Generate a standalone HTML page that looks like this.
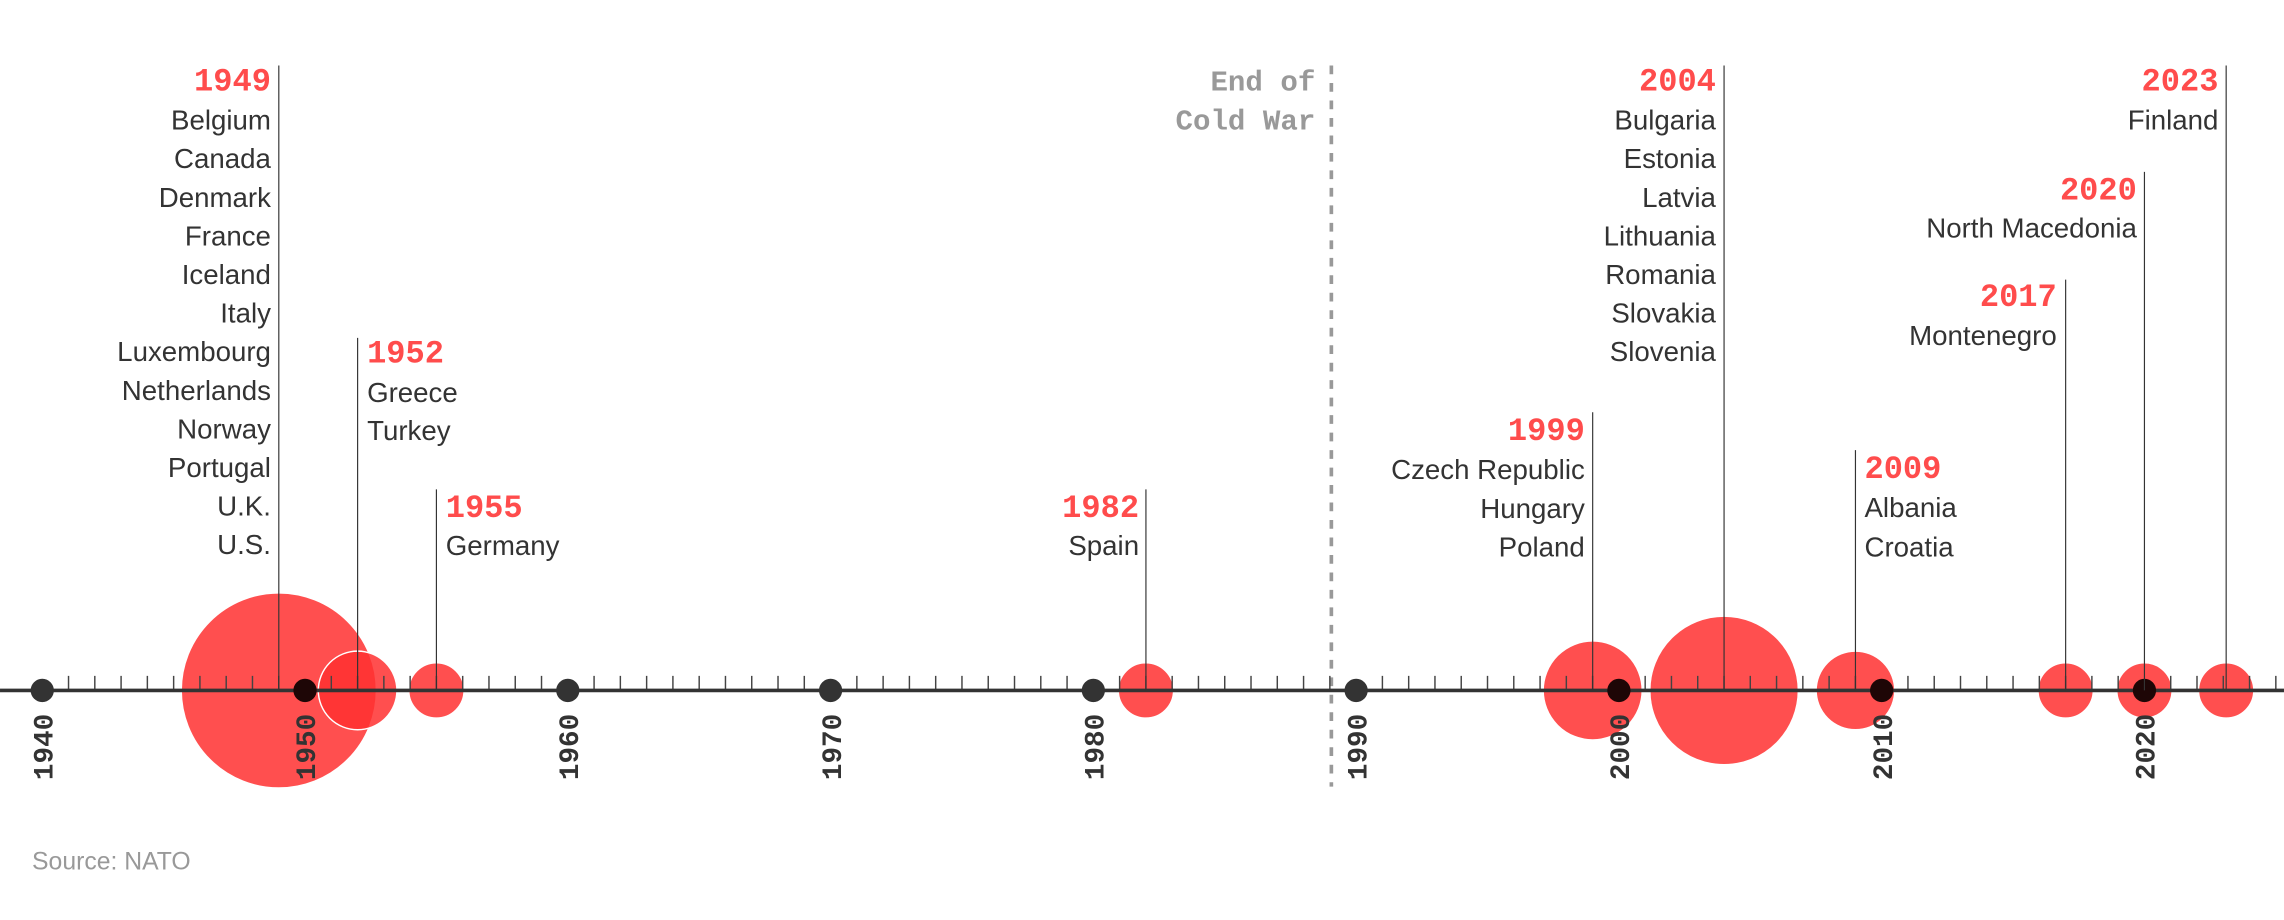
<!DOCTYPE html>
<html><head><meta charset="utf-8"><style>html,body{margin:0;padding:0;background:#fff}svg{display:block}
.m{font-family:"Liberation Mono","DejaVu Sans Mono",monospace;font-weight:bold}
.s{font-family:"Liberation Sans",sans-serif}</style></head><body>
<svg width="2284" height="920" viewBox="0 0 1568 631.6" xmlns="http://www.w3.org/2000/svg">
<line x1="914" y1="45" x2="914" y2="540" stroke="#999" stroke-width="2.5" stroke-dasharray="6,6"/>
<g fill="#ff3030" fill-opacity="0.85" stroke="#fff" stroke-width="1">
<circle cx="191.4" cy="474" r="67"/><circle cx="245.5" cy="474" r="27"/><circle cx="299.6" cy="474" r="19"/><circle cx="786.7" cy="474" r="19"/><circle cx="1093.4" cy="474" r="34"/><circle cx="1183.6" cy="474" r="51"/><circle cx="1273.8" cy="474" r="27"/><circle cx="1418.1" cy="474" r="19"/><circle cx="1472.2" cy="474" r="19"/><circle cx="1528.3" cy="474" r="19"/>
</g>
<g id="ticks" stroke="#444" stroke-width="1"></g>
<line x1="0" y1="474" x2="1568" y2="474" stroke="#333" stroke-width="2.5"/>
<g fill="#333">
<circle cx="29" cy="474" r="8"/><circle cx="389.8" cy="474" r="8"/><circle cx="570.2" cy="474" r="8"/><circle cx="750.6" cy="474" r="8"/><circle cx="931" cy="474" r="8"/>
</g>
<g fill="#1e0606">
<circle cx="209.4" cy="474" r="8"/><circle cx="1111.4" cy="474" r="8"/><circle cx="1291.8" cy="474" r="8"/><circle cx="1472.2" cy="474" r="8"/>
</g>
<g stroke="#333" stroke-width="0.8">
<line x1="191.4" y1="45" x2="191.4" y2="474"/><line x1="245.5" y1="232" x2="245.5" y2="474"/><line x1="299.6" y1="336" x2="299.6" y2="474"/><line x1="786.7" y1="336" x2="786.7" y2="474"/><line x1="1093.4" y1="283" x2="1093.4" y2="474"/><line x1="1183.6" y1="45" x2="1183.6" y2="474"/><line x1="1273.8" y1="309" x2="1273.8" y2="474"/><line x1="1418.1" y1="192" x2="1418.1" y2="474"/><line x1="1472.2" y1="118" x2="1472.2" y2="474"/><line x1="1528.3" y1="45" x2="1528.3" y2="474"/>
</g>
<g font-size="22" fill="#ff4c4c" class="m">
<text x="186" y="62" text-anchor="end">1949</text>
<text x="252" y="249">1952</text>
<text x="306" y="355">1955</text>
<text x="782" y="355" text-anchor="end">1982</text>
<text x="1088" y="302" text-anchor="end">1999</text>
<text x="1178" y="62" text-anchor="end">2004</text>
<text x="1280" y="328">2009</text>
<text x="1412" y="210" text-anchor="end">2017</text>
<text x="1467" y="137" text-anchor="end">2020</text>
<text x="1523" y="62" text-anchor="end">2023</text>
</g>
<g font-size="20" fill="#999" class="m" text-anchor="end">
<text x="903" y="62">End of</text><text x="903" y="89">Cold War</text>
</g>
<g font-size="19" fill="#333" class="s">
<g text-anchor="end">
<text x="186" y="89">Belgium</text><text x="186" y="115.5">Canada</text><text x="186" y="142">Denmark</text><text x="186" y="168.5">France</text><text x="186" y="195">Iceland</text><text x="186" y="221.5">Italy</text><text x="186" y="248">Luxembourg</text><text x="186" y="274.5">Netherlands</text><text x="186" y="301">Norway</text><text x="186" y="327.5">Portugal</text><text x="186" y="354">U.K.</text><text x="186" y="380.5">U.S.</text>
<text x="782" y="381">Spain</text>
<text x="1088" y="329">Czech Republic</text><text x="1088" y="355.5">Hungary</text><text x="1088" y="382">Poland</text>
<text x="1178" y="89">Bulgaria</text><text x="1178" y="115.5">Estonia</text><text x="1178" y="142">Latvia</text><text x="1178" y="168.5">Lithuania</text><text x="1178" y="195">Romania</text><text x="1178" y="221.5">Slovakia</text><text x="1178" y="248">Slovenia</text>
<text x="1412" y="237">Montenegro</text><text x="1467" y="163">North Macedonia</text><text x="1523" y="89">Finland</text>
</g>
<text x="252" y="276">Greece</text><text x="252" y="302">Turkey</text>
<text x="306" y="381">Germany</text>
<text x="1280" y="355">Albania</text><text x="1280" y="382">Croatia</text>
</g>
<g font-size="19" fill="#333" class="m" text-anchor="end">
<text transform="translate(36,490) rotate(-90)">1940</text>
<text transform="translate(216.4,490) rotate(-90)">1950</text>
<text transform="translate(396.8,490) rotate(-90)">1960</text>
<text transform="translate(577.2,490) rotate(-90)">1970</text>
<text transform="translate(757.6,490) rotate(-90)">1980</text>
<text transform="translate(938,490) rotate(-90)">1990</text>
<text transform="translate(1118.4,490) rotate(-90)">2000</text>
<text transform="translate(1298.8,490) rotate(-90)">2010</text>
<text transform="translate(1479.2,490) rotate(-90)">2020</text>
</g>
<text x="22" y="597" font-size="17" fill="#999" class="s">Source: NATO</text>
</svg>
<script>
var g=document.getElementById('ticks'),h='';
for(var y=1940;y<=2025;y++){if(y%10==0)continue;var x=29+(y-1940)*18.04;h+='<line x1="'+x+'" y1="464" x2="'+x+'" y2="474"/>';}
g.innerHTML=h;
</script>
</body></html>
